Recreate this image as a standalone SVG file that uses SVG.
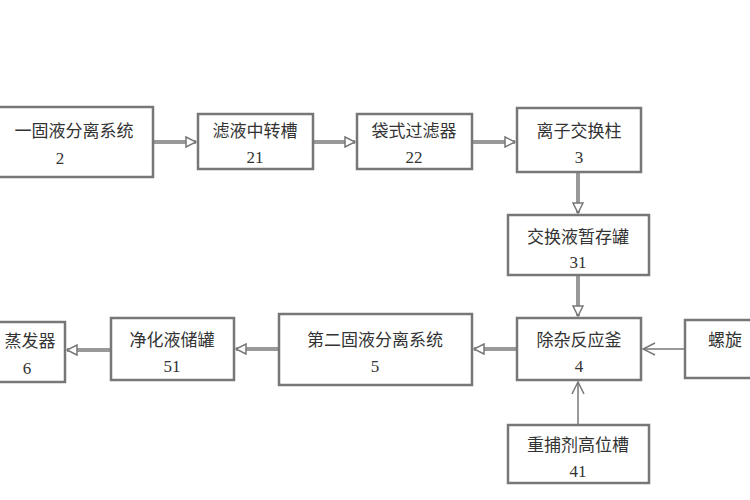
<svg xmlns="http://www.w3.org/2000/svg" width="750" height="500" viewBox="0 0 750 500">
<defs>
<style>
.b{fill:#fff;stroke:#777;stroke-width:2.5}
.t{font-family:"Liberation Serif","Noto Sans CJK SC",serif;font-size:17px;fill:#333;text-anchor:middle}
.c{stroke:#999;stroke-width:4;fill:none}
.v{stroke:#777;stroke-width:1.5;fill:none}
</style>
<marker id="h" markerWidth="12" markerHeight="12" refX="11" refY="6" orient="auto" markerUnits="userSpaceOnUse"><path d="M1,1 L11,6 L1,11 Z" fill="#fff" stroke="#777" stroke-width="1.5"/></marker>
<marker id="o" markerWidth="14" markerHeight="14" refX="13" refY="7" orient="auto" markerUnits="userSpaceOnUse"><path d="M1,1 L13,7 L1,13" fill="none" stroke="#777" stroke-width="1.5"/></marker>
</defs>
<rect width="750" height="500" fill="#fff"/>
<g id="connectors">
<path class="c" d="M153,142 H196" marker-end="url(#h)"/>
<path class="c" d="M313,142 H355" marker-end="url(#h)"/>
<path class="c" d="M472,142 H515" marker-end="url(#h)"/>
<path class="c" d="M578,172 V213" marker-end="url(#h)"/>
<path class="c" d="M578,275 V316" marker-end="url(#h)"/>
<path class="c" d="M517,349 H474" marker-end="url(#h)"/>
<path class="c" d="M279,349 H236" marker-end="url(#h)"/>
<path class="c" d="M111,350 H67" marker-end="url(#h)"/>
<path class="v" d="M685,349 H643" marker-end="url(#o)"/>
<path class="v" d="M578,425 V382" marker-end="url(#o)"/>
</g>
<g id="n2"><rect class="b" x="-5" y="107" width="158" height="70"/><text class="t" x="74" y="137">一固液分离系统</text><text class="t" x="60" y="164">2</text></g>
<g id="n21"><rect class="b" x="198" y="114" width="115" height="55"/><text class="t" x="255" y="137">滤液中转槽</text><text class="t" x="255" y="163">21</text></g>
<g id="n22"><rect class="b" x="357" y="114" width="115" height="55"/><text class="t" x="414" y="137">袋式过滤器</text><text class="t" x="414" y="163">22</text></g>
<g id="n3"><rect class="b" x="517" y="108" width="124" height="64"/><text class="t" x="579" y="137">离子交换柱</text><text class="t" x="579" y="163">3</text></g>
<g id="n31"><rect class="b" x="508" y="215" width="141" height="60"/><text class="t" x="578" y="243">交换液暂存罐</text><text class="t" x="578" y="268">31</text></g>
<g id="n4"><rect class="b" x="517" y="318" width="124" height="62"/><text class="t" x="579" y="346">除杂反应釜</text><text class="t" x="579" y="372">4</text></g>
<g id="n41"><rect class="b" x="508" y="425" width="141" height="58"/><text class="t" x="578" y="451">重捕剂高位槽</text><text class="t" x="578" y="477">41</text></g>
<g id="n5"><rect class="b" x="279" y="314" width="193" height="71"/><text class="t" x="375" y="346">第二固液分离系统</text><text class="t" x="375" y="372">5</text></g>
<g id="n51"><rect class="b" x="111" y="318" width="123" height="62"/><text class="t" x="172" y="346">净化液储罐</text><text class="t" x="172" y="372">51</text></g>
<g id="n6"><rect class="b" x="-5" y="322" width="70" height="60"/><text class="t" x="30" y="347">蒸发器</text><text class="t" x="27" y="374">6</text></g>
<g id="n7"><rect class="b" x="685" y="320" width="70" height="58"/><text class="t" x="724" y="346" style="text-anchor:start" dx="-16">螺旋</text></g>
</svg>
